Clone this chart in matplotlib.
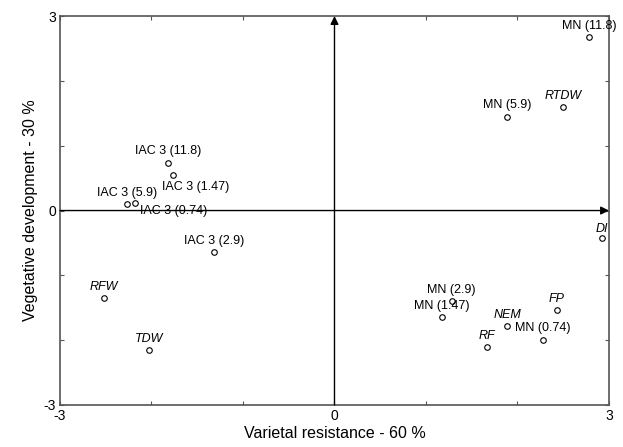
import matplotlib.pyplot as plt

plt.rcParams['font.family'] = ['Liberation Sans', 'DejaVu Sans']

# scores on the two components
names = ['MN (11.8)', 'MN (5.9)', 'RTDW', 'DI',
         'IAC 3 (11.8)', 'IAC 3 (1.47)', 'IAC 3 (5.9)', 'IAC 3 (0.74)', 'IAC 3 (2.9)',
         'RFW', 'TDW',
         'MN (2.9)', 'MN (1.47)', 'NEM', 'RF', 'MN (0.74)', 'FP']
x_vals = [2.78, 1.89, 2.50, 2.92,
          -1.82, -1.76, -2.27, -2.18, -1.32,
          -2.52, -2.03,
          1.28, 1.17, 1.89, 1.67, 2.28, 2.43]
y_vals = [2.68, 1.45, 1.60, -0.42,
          0.74, 0.55, 0.10, 0.12, -0.64,
          -1.35, -2.15,
          -1.40, -1.64, -1.78, -2.11, -1.99, -1.54]
italic_names = ['RTDW', 'DI', 'RFW', 'TDW', 'NEM', 'RF', 'FP']

# label offsets in points (most labels sit centred above the point)
label_offsets = {'IAC 3 (1.47)': (16, -9), 'IAC 3 (0.74)': (28, -6), 'DI': (0, 6)}

fig = plt.figure(figsize=(6.23, 4.47), dpi=100)
ax = fig.add_axes([0.0963, 0.094, 0.8812, 0.870])

ax.plot(x_vals, y_vals, 'o', ms=4, mfc='white', mec='black', mew=0.8, zorder=3)

for name, x, y in zip(names, x_vals, y_vals):
    off = label_offsets.get(name, (0, 8))
    ax.annotate(name, (x, y), xytext=off, textcoords='offset points',
                ha='center', va='center', fontsize=9,
                style='italic' if name in italic_names else 'normal')

# axes arrows
arrow = dict(arrowstyle='-|>', color='black', lw=1, mutation_scale=12, shrinkA=0, shrinkB=0)
ax.annotate('', xy=(3, 0), xytext=(-3, 0), arrowprops=arrow)
ax.annotate('', xy=(0, 3), xytext=(0, -3), arrowprops=arrow)

ax.set_xlim(-3, 3)
ax.set_ylim(-3, 3)
ax.set_xticks([-3, -2, -1, 0, 1, 2, 3])
ax.set_xticklabels(['-3', '', '', '0', '', '', '3'])
ax.set_yticks([-3, -2, -1, 0, 1, 2, 3])
ax.set_yticklabels(['-3', '', '', '0', '', '', '3'])
ax.tick_params(direction='in', length=3, width=0.8, color='#555555',
               top=True, right=True, labelsize=10, pad=3)
for s in ax.spines.values():
    s.set_color('#555555')
    s.set_linewidth(1.2)

ax.set_xlabel('Varietal resistance - 60 %', fontsize=11.5, labelpad=2)
ax.set_ylabel('Vegetative development - 30 %', fontsize=11.5, labelpad=4)

fig.savefig('out.png', dpi=100)
